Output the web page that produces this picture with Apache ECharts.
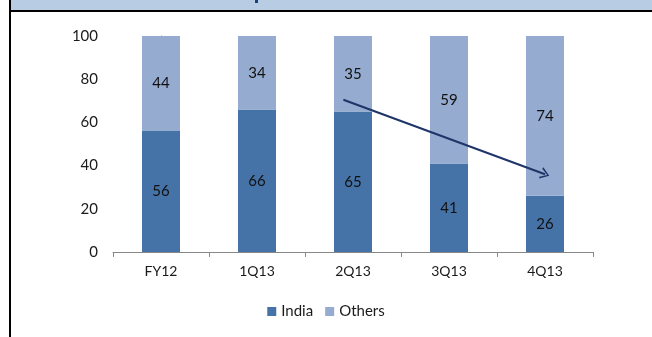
<!DOCTYPE html>
<html>
<head>
<meta charset="utf-8">
<script src="https://cdn.jsdelivr.net/npm/echarts@6/dist/echarts.min.js"></script>
<style>
  html, body { margin: 0; padding: 0; background: #fff; }
  #chart { width: 652px; height: 337px; }
</style>
</head>
<body>
<div id="chart"></div>
<script>
// share of revenue by region, %
var categories = ['FY12', '1Q13', '2Q13', '3Q13', '4Q13'];
var india = [56, 66, 65, 41, 26];
var others = [44, 34, 35, 59, 74];
var yTicks = [0, 20, 40, 60, 80, 100];

// trend arrow, [category position, value]
var arrowFrom = [1.9, 70.5];
var arrowTo = [4, 36];

var chart = echarts.init(document.getElementById('chart'), null, { renderer: 'canvas' });

var font = 'Lato, "Open Sans", sans-serif';

var option = {
  backgroundColor: '#ffffff',
  animation: false,
  color: ['#4573a7', '#95abd0'],
  textStyle: { fontFamily: font },
  grid: { left: 113, right: 59, top: 36, bottom: 85 },
  legend: {
    bottom: 13,
    left: 'center',
    itemWidth: 9,
    itemHeight: 9,
    itemGap: 12,
    icon: 'rect',
    textStyle: { fontSize: 15, color: '#1a1a1a', fontFamily: font, padding: [0, 0, 0, 0] },
    data: ['India', 'Others']
  },
  xAxis: [{
    type: 'category',
    data: categories,
    axisLine: { lineStyle: { color: '#888', width: 1 } },
    axisTick: { show: true, length: 5, lineStyle: { color: '#888' } },
    axisLabel: { fontSize: 14, color: '#1a1a1a', margin: 12, fontFamily: font }
  }, {
    type: 'value',
    min: -0.5,
    max: 4.5,
    show: false
  }],
  yAxis: {
    type: 'value',
    min: yTicks[0],
    max: yTicks[yTicks.length - 1],
    interval: 20,
    axisLine: { show: true, lineStyle: { color: '#888', width: 1 } },
    axisTick: { show: true, length: 4, lineStyle: { color: '#888' } },
    splitLine: { show: false },
    axisLabel: { fontSize: 15, color: '#1a1a1a', margin: 15, fontFamily: font }
  },
  series: [{
    name: 'India',
    type: 'bar',
    stack: 'total',
    barWidth: 38,
    data: india,
    label: { show: true, position: 'inside', fontSize: 15, color: '#111', fontFamily: font }
  }, {
    name: 'Others',
    type: 'bar',
    stack: 'total',
    barWidth: 38,
    data: others,
    label: { show: true, position: 'inside', fontSize: 15, color: '#111', fontFamily: font }
  }, {
    name: 'trend',
    type: 'scatter',
    xAxisIndex: 1,
    data: [],
    silent: true,
    markLine: {
      silent: true,
      symbol: ['none', 'path://M0,10 L5,0 L10,10 L8.6,10.6 L5,2.6 L1.4,10.6 Z'],
      symbolSize: [12, 9],
      label: { show: false },
      lineStyle: { color: '#1f3468', width: 2, type: 'solid' },
      data: [[{ coord: arrowFrom }, { coord: arrowTo }]]
    }
  }],
  graphic: [
    { type: 'rect', shape: { x: 10, y: 0, width: 642, height: 10 }, style: { fill: '#b8cce4' }, silent: true },
    { type: 'rect', shape: { x: 9, y: 10, width: 643, height: 2 }, style: { fill: '#000' }, silent: true },
    { type: 'rect', shape: { x: 9, y: 0, width: 2, height: 337 }, style: { fill: '#000' }, silent: true },
    { type: 'rect', shape: { x: 255, y: 0, width: 3, height: 3 }, style: { fill: '#1f3f7a' }, silent: true }
  ]
};

chart.setOption(option);
</script>
</body>
</html>
